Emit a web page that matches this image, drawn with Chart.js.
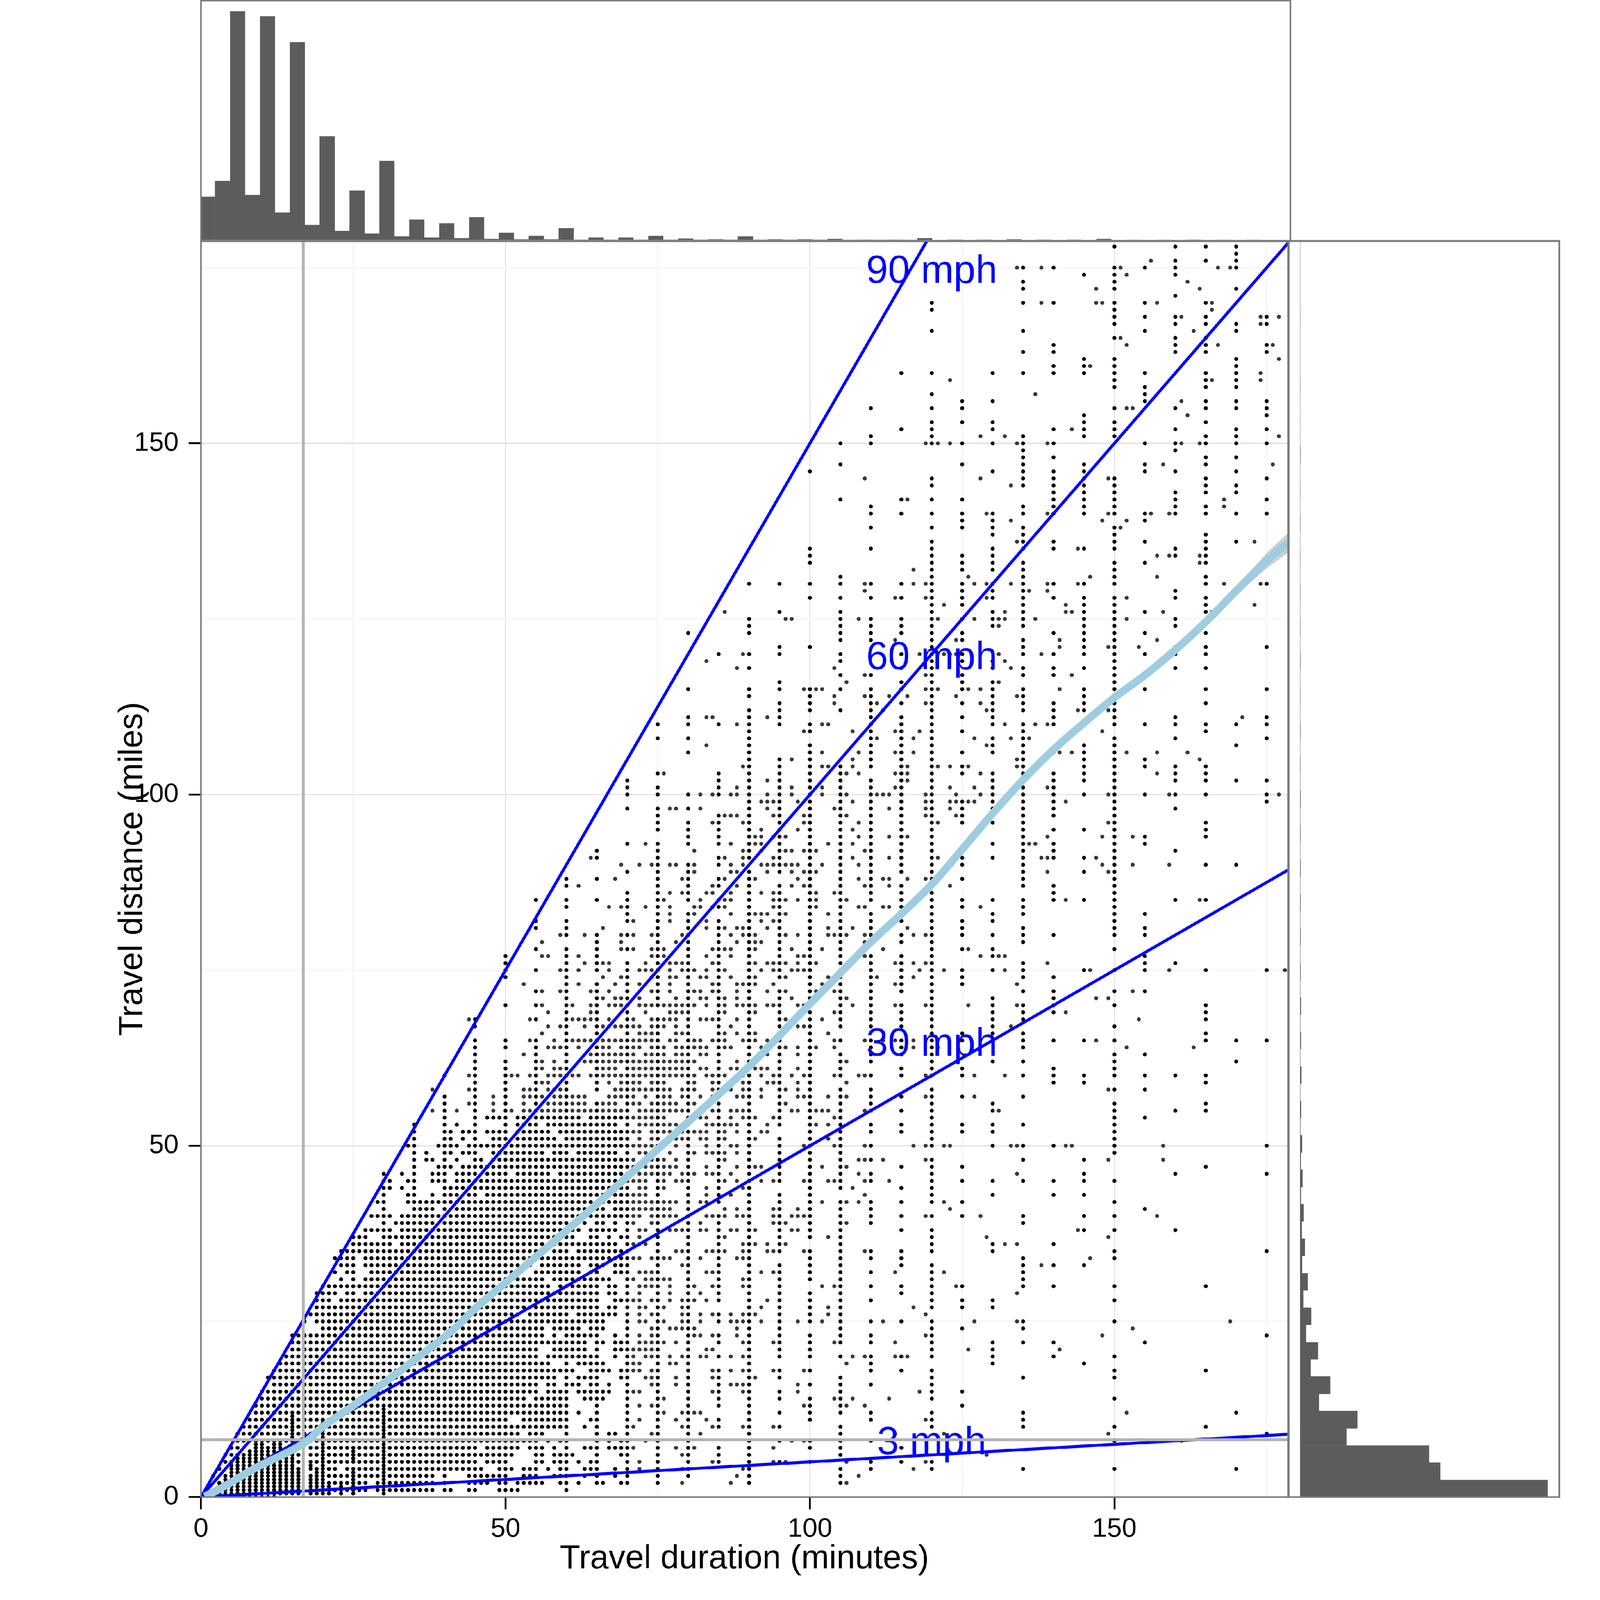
<!DOCTYPE html>
<html>
<head>
<meta charset="utf-8">
<title>Travel duration and distance</title>
<script src="https://cdn.jsdelivr.net/npm/chart.js@4/dist/chart.umd.js"></script>
<style>
  html, body { margin: 0; background: #fff; overflow: hidden; }
  #page { position: relative; width: 4800px; height: 4800px; overflow: hidden; background: #fff; transform-origin: 0 0; }
  canvas { position: absolute; display: block; }
</style>
</head>
<body>
<div id="page">
  <canvas id="scatter" width="3900" height="4800" style="left:0;top:0"></canvas>
  <canvas id="topHist" width="3300" height="730" style="left:590px;top:0"></canvas>
  <canvas id="rightHist" width="850" height="3800" style="left:3850px;top:710px"></canvas>
</div>
<script>
// The window can report fewer css pixels than 4800, fit the page to it
document.getElementById('page').style.transform = 'scale(' + Math.min(window.innerWidth, window.innerHeight) / 4800 + ')';

// Histogram heights (bottom-most / left-most bin first)
const topCounts = [252,346,1343,263,1314,160,1163,87,608,52,289,36,463,20,118,13,97,9,132,5,42,3,22,3,69,1,13,1,13,1,22,1,7,1,3,1,20,1,3,1,3,1,5,.5,1,.5,1,.5,9,.3,1,.3,1,.3,3,.3,1,.3,1,.3,5,.2,.7,.2,.7,.2,1,.2,.7,.2,.7,.1,.1];
const rightCounts = [1165,660,607,219,269,88,141,50,84,28,52,14,36,9,22,8,17,3,11,2.6,9,1,4.7,.5,6.2,.5,3,.5,3,.4,1.5,.3,1.5,.3,1.5,.3,1.5,.3,1.2,.3,1.5,.3,.8,.2,1,.2,.7,.2,1,.2,.7,.2,.7,.1,.4,.1,.6,.1,.4,.1,1,.1,.2,.1,.4,.1,.1,.1,.3,.1,.1,.1,.1];
const topFirstBin = 1.1, rightFirstBin = 1.2, binWidth = 2.453;

// Axis ticks: every 25 gets a grid line, every 50 a label
const gridTicks = [0, 25, 50, 75, 100, 125, 150, 175];
const labelledTicks = [0, 50, 100, 150];

// Speed reference lines and their labels
const line90 = [{x:0,y:0},{x:120,y:180}];
const line60 = [{x:0,y:0},{x:180,y:180}];
const line30 = [{x:0,y:0},{x:180,y:90}];
const line3  = [{x:0,y:0},{x:180,y:9}];
const speedLabels = ['90 mph', '60 mph', '30 mph', '3 mph'];
const labelMinutes = [120, 120, 120, 120];
const labelMiles = [174.35, 119.35, 64.35, 7.6];

// Median cross-hair
const medianMinutes = 16.8, medianMiles = 8.15;

// Smoother and its confidence band
const smoothMinutes = [0.6,2.9,8.7,16.8,20,25,30,36.7,41.4,45,50,55,60,65,70,75,80,85,90,95,100,105,110,115,120,125,130,135,140,145,150,155,160,165,170,175,178.6];
const smoothMiles = [0.1,1.05,4,7.6,10,13,16.2,20.6,23.8,26.8,30.5,34.2,37.9,41.7,45.6,49.5,53.4,57.3,61.3,65.7,70.2,74.6,79,83,87.2,92.2,97.3,102.1,106.4,110.2,113.8,117,120.6,124.6,129,133.3,135.9];
const bandMinutes = [150,160,165,170,175,178.6];
const bandUpper = [113.9,120.8,124.9,129.6,134.4,137.3];
const bandLower = [113.7,120.4,124.3,128.4,132.2,134.5];

// Dots, per mile row: "minutes" with a-b for a run of neighbouring dots
// 0-25 miles, up to 43 minutes
const lowLeftRows = [
  [0,'3-12'],[1,'4-16 18-27 29-38 40 41'],[2,'3-16 18-27 29-38 40'],[3,'2 4-16 18-38 40'],[4,'3 5-16 18-22 24-43'],
  [5,'4-16 18-43'],[6,'4-16 18-43'],[7,'5 6 9-13 15 16 18-43'],[8,'6-43'],[9,'6-43'],[10,'7-43'],[11,'8-43'],[12,'9-43'],
  [13,'9-43'],[14,'10-43'],[15,'10-43'],[16,'12-43'],[17,'11-43'],[18,'12-43'],[19,'13-43'],[20,'14-43'],[21,'15-43'],
  [22,'15-43'],[23,'15-43'],[24,'20-43'],[25,'17 19-43']
];
// stacked half-mile dots that make the solid bars at short durations
const halfMileRows = [
  [0.5,'3-16 18-21 23 25 30'],[1.5,'3-16 18-21 23 25 30'],[2.5,'4-16 18-20 25 30'],[3.5,'5-16 19 20 25 30'],[4.5,'5-15 18 20 30'],
  [5.5,'6-15 20 25 30'],[6.5,'8-15 20 25 30'],[7.5,'9 10 12 13 15 20 30'],[8.5,'15 20 30'],[9.5,'15 20 30'],[10.5,'15 20 30'],[11.5,'15 30'],[12.5,'30']
];
// 1-25 miles, from 44 minutes
const lowRows = [
  [25,'44-66 70 72 73 75 76 79 80 82 85 87-90 92 95 98 100 102 105 110 112 115 120 127 134 135 150 169'],
  [24,'44-56 58-62 64-66 70 74 75 77-81 88 90 95 105 120 125 135 153'],
  [23,'44-56 58 60-65 68 70 72 74 75 80-82 84 85 88 90 95 100 105 110 119 120 148 175'],
  [22,'44-63 65 66 68-70 72-76 78 80 85 89 90 94 95 100 104 105 110 114 120 130 135 140 155'],
  [21,'44-55 58-63 65 68-75 80 83 84 90 95 100 120 126 130 141'],
  [20,'44-55 57-65 68 70 71 73-75 77 79 80 82 83 85 87 89 90 95 100 105 107 109 110 114-116 120 130 140 150'],
  [19,'44-57 60 62-66 70-72 75 77 78 80 90 106 110 130 145'],
  [18,'44-61 64-67 69-72 74 75 80 84 85 87 89 90 94 95 99 100 110 115 120 150 165'],
  [17,'44-58 60 62-65 69 70 73-75 78 80 84 85 90 91 95 105 120 135 150'],
  [16,'44-55 57 58 60-62 64 65 67 70 74 75 78 80 85 87-90 98 100 105 110 120'],
  [15,'44-55 57-60 62-67 70-72 75 80 84 85 89 90 95 98 105 118 120 125'],
  [14,'44-53 55-60 63-66 70 75 76 80 85 90 95 100 104 105 107 113 120 150'],
  [13,'44-60 65 70 72 74 75 80 85 90 99 100 105 106 109 125'],
  [12,'44-60 62 65 70 75 76 79-82 90 95 100 105 110 120 135 152 170'],
  [11,'44-50 53-60 64 65 70 72 75 78 80 83 85 90 100 110 119 120 135'],
  [10,'44-60 63 65 70 71 75 79 80 84 85 89 90 94 95 105 120 135 150 165'],
  [9,'44-52 54-56 60 65 67 68 70 74 75 80 82 90 105 114 122 149 175'],
  [8,'44-55 57 59 60 65 67 69 70 73 75 80 90 95 97 99 100 105 110 150 161'],
  [7,'44 45 47-52 54-56 58 60 63-65 67-71 75 78 80 81 85 90 94 100 105 115'],
  [6,'44-51 55 56 58-61 65 69 70 75 79 80 85 90 105 129'],
  [5,'44 45 47-50 55 56 58-60 62 64 65 70 72 75 80 84 85 90 94-96 100 106 110 115 119 120'],
  [4,'44-46 49-51 53-55 57 59 60 63-65 68 70 72 75 79 80 89 90 105 110 117 120 135 150 170'],
  [3,'44-50 53-55 58-60 63 65 68 70 75 80 88 90 105 108'],
  [2,'44-47 49 50 52-56 59 60 62 65 66 69 70 75 79 87 90 105 106'],
  [1,'44 45 49-52 60']
];
// 26-68 miles, up to 49 minutes
const leftRows = [
  [68,'44 45'],[67,'45'],[65,'45'],[64,'45'],[63,'45'],[62,'45'],[61,'45'],[60,'40 44 45'],[59,'45'],[58,'38 44 45'],[57,'40 45 48'],
  [56,'40 44 45 48'],[55,'38 40 42 45 48'],[54,'40 45 47-49'],[53,'35 40 42 45'],[52,'35 40 41 43-45 47-49'],[51,'35 40 41 43 45 48 49'],
  [50,'34 35 39-42 44-49'],[49,'35 37 40 41 43-45 48 49'],[48,'35 37 38 40 42 45 46 48 49'],[47,'35 39-41 43-49'],[46,'30 33 35 38-40 42-45 47-49'],
  [45,'30 31 34 35 38-40 42-49'],[44,'30 31 33 35 40-49'],[43,'30 34 35 38 40-42 44 45 47-49'],[42,'29 30 34-49'],[41,'30 35-38 40 42-49'],
  [40,'28-31 33-49'],[39,'30 32-38 40-49'],[38,'27-31 33-49'],[37,'25-27 30-49'],[36,'25-31 33-49'],[35,'23-49'],[34,'22-25 27-49'],
  [33,'23-25 27-49'],[32,'22 24 25 28-49'],[31,'23 25 27-49'],[30,'20-49'],[29,'19-22 24 25 27-49'],[28,'19-21 23-49'],[27,'19-49'],[26,'18-49']
];
// 26-70 miles, 44-98 minutes
const midRows = [
  [70,'50 55 56 60 61 64 65 67-70 72-81 83 85 86 88-91 93-95'],[69,'57 60 64 65 70 73 77-80 85 86 90 91 95'],
  [68,'54 55 60-65 67 70 71 74-78 80 82-85 88 90 95 96'],[67,'57 59 60 63 65-72 74-76 78 80 85 87 90 95'],
  [66,'56 60 65 70 72-75 78-80 85 86 88 90 91 95'],[65,'50 54 55 58 60-75 77 78 80-82 84-86 89-91 93 95'],
  [64,'50 55 57-60 62 65-67 69-72 74-76 78-83 85-87 90 92 93 95 96 98'],[63,'53 55 60 64-71 73-76 78-80 82 83 85 90 93 95'],
  [62,'50 55 56 58 60 63-81 85 88 90 95'],[61,'50 55 56 58-60 65-68 70-80 82 83 85 87 88 90-93 95 98'],
  [60,'50-52 54 55 57-62 64-81 83-86 89 90 92 94 95 97'],[59,'50 55-57 60 65 67 69-72 74-76 80 81 84 85 89 90 93-95 98'],
  [58,'50 53-55 57-60 65 68-77 79-81 84 85 87 89 90 92 95 96 98'],[57,'48 50 53-56 58-63 67-71 73 75-77 79 80 82 84 85 88-90 92 95'],
  [56,'48 50 53 55 57-63 65-68 70-72 74-78 80 81 85 90 95 96'],[55,'48 50 51 53-70 72-80 84 85 87-90 95 97 98'],
  [54,'47-50 52-62 64-76 80 82 83 85 87 89-91 94 95'],[53,'50 52-55 57-68 70 72-80 83-88 90 93 95'],
  [52,'47-50 52-57 59-72 74-83 85 86 88 90 92 93'],[51,'48-50 52-58 60-70 72 74 75 78-80 82 83 85 86 90 91 95'],
  [50,'44-75 78 80 83 85 87 88 90 95'],[49,'44 45 48 50-56 58-60 62-68 70 72 73 77 80 81 83-86 88 90 95'],
  [48,'45 46 48-71 73-76 78 80 85 86 90 95'],[47,'44-46 48-78 80 83 85 88 90-92 95'],
  [46,'44 45 47-50 52-57 59-70 72-77 79-81 83-85 87 90 95'],[45,'44-73 75 76 78-80 85 86 88 90 92 94 95'],
  [44,'45-70 72 73 75 76 80 83 85 89 90'],[43,'44 45 47-73 75 80 83 85 87 90 95'],[42,'44-78 80 82 83 85 90 95'],
  [41,'44-66 68-77 80 86 88 90 94 95 98'],[40,'44-72 74-78 80 83-86 88-90 94 95 97 98'],
  [39,'44-60 63 65 66 68 70 71 74 75 80 82 85 90 94-96'],[38,'44-62 64-68 70 72 73 75 77-80 82 83 85 87 88 90 91 95 97 98'],
  [37,'44-61 64 65 67 69 70 72 75 80 85 86 90 95'],[36,'44-68 70-73 75 80 85 89-91 93 95 96'],
  [35,'44-56 58-60 62-70 75 78-80 83-86 89 90 93-95'],[34,'44-72 74-77 80 82 85 88-90'],[33,'44-54 56-62 64-66 68-70 75 79 80 85 90 95'],
  [32,'44-52 55-62 64 65 68-70 72-75 80 83-85 90 92 94 95'],[31,'44-56 58-67 70 71 73-77 80 85 89 90 95'],
  [30,'44-57 59-65 67 68 70 72-75 77 80 81 84 85 89 90 95'],[29,'44-65 67 68 70 72 75 77 80 82 85 90 95'],
  [28,'44-65 68-72 74 75 77 79-81 83 85 90 93 95'],[27,'44-65 67 68 70 72 73 75 76 79 80 90 92 95'],
  [26,'44-52 54-60 62-68 70 72 74 75 79 80 82 84 85 87 89-91 95']
];
// 26-85 miles, 98 minutes and longer
const rightRows = [
  [85,'100 101 105 106 110 120 125 130 140 142 145 150 160 164 165'],[84,'100 101 105 108 109 112 113 115 120 125 128 135 150'],
  [83,'100 103 105 110 115 120 130 135 150 155'],[82,'100 105 110 115 120 125 130 150'],[81,'100 103 105 107 110 116 120 125 135 150 155'],
  [80,'98 100 103-106 109-111 115 117 119 120 125 130 135 140 150 155'],[79,'100 105 109 110 115 120 135'],[78,'100 102 105 112 120 125 126 130 150'],
  [77,'98-100 105 109 110 115 120 128 130-132 155'],[76,'98 100 101 105 110 114 115 117 119 120 135 139 155 160'],
  [75,'98-100 105 110 115 118 120 122 125 130 132 135 145 146 150 155 159 165 175 178'],[74,'100 103 105 110 111 115 117 120 125 135 140'],
  [73,'100 102 105 110 114 115 120 125 134'],[72,'100 101 104 105 110 115 120 135 140 150 153 155'],[71,'100 105 106 110 120 130 140 147 149'],
  [70,'98-100 105 107 110 114 115 119 120 126 130 134 135 140 150 165'],[69,'100 104 105 110 115 120 130 135 140 142 165'],
  [68,'100 102 105 110 115 120 130 135 154 165'],[67,'98-100 105 110 115 120 130 133 150'],[66,'100 103 120 125 130 135 165'],
  [65,'100 104 105 109 110 112 114 115 117 120 125 135 140 145 147 150 165 170 175'],[64,'98 100 101 104 110 115 117 120 121 135 152 163'],
  [63,'98 100 105 110 115 120 150 155'],[62,'100 105 106 110 120 130 135 150 170'],[61,'98 100 105 115 120 125 140 150'],
  [60,'99 100 104 105 108-110 115 119 120 125 127 132 135 140 145 150 155 160 165'],[59,'98 100 106 140 145 165'],
  [58,'98 100 105 110 120 149 150 155'],[57,'98-100 103 105 106 110 115 119 120 125 127 135'],[56,'100 105 110 120 130 150 165'],
  [55,'98 100-103 105 109 110 115 120 130 131 150 160 165'],[54,'100 104 105 120 150 155'],[53,'100 101 103 105 110 115 120 125 130 135 150'],
  [52,'100 105 110 115 120 125 130 150'],[51,'100 103 105 120 150'],[50,'99 100 104 105 109 110 117 119 120 122 123 130 133-135 140 142 143 150 158 175'],
  [49,'100 105 150'],[48,'100 105 108-110 112 119 120 135 145 149 158'],[47,'100 102 105 106 115 120 125 165'],[46,'100 105 108 110 120 134 145 160 175'],
  [45,'99 100 103-105 109 110 113 120 125 130 135 140 145 150'],[44,'100 105 107 115 120'],[43,'100 109 120 130 140 145'],
  [42,'100 102 105 106 108 110 115 120 122 125 150'],[41,'98 100 105 110 123 155'],[40,'98-100 105 110 115 119 120 125 128 135 145 150 157'],
  [39,'100 105 106 110 135'],[38,'98 100 105 115 120 144 145 150 160'],[37,'100 103 105 120 129 149'],[36,'105 120 130 132 134 140'],
  [35,'99 100 105 109 110 115 120 130 150 175'],[34,'100 105 110 115 135 146 150'],[33,'100 105 115 120 135 138 140 145'],
  [32,'100 105 110 114 120 122 135'],[31,'100 105 120 135'],[30,'102 104 105 110 115 120 124 125 135 140 150 165'],[29,'100 105 115 120 134'],
  [28,'100 105 110 120 125 130 150'],[27,'100 103 105 117 120 125 130'],[26,'100 103 105 119']
];
// stray dots between the five-minute columns, upper part of the panel
const upperRows = [
  [176,'156'],[175,'134 138 151 167 169'],[174,'152'],[173,'162'],[172,'147 164'],[170,'138 147 148 157 166'],[169,'166'],[168,'161 174 177'],[167,'174'],
  [166,'163'],[165,'151'],[164,'152 167 176'],[162,'177'],[161,'146'],[160,'174'],[159,'123 166 174'],[157,'137'],[156,'161'],[155,'152 153'],[154,'162'],
  [152,'143'],[151,'128 132 177'],[150,'119 121 123 134 139 161 164'],[147,'158 176'],[145,'109 128 149'],[144,'133'],[142,'116 168'],[141,'168'],
  [140,'129 139 149 156 159'],[139,'133 148 152'],[138,'151'],[136,'134 173'],[135,'144'],[134,'157 159 164'],[133,'164'],[132,'117'],[131,'126 146 157'],
  [130,'109 117 119 127 129 133 139 144 168 174'],[129,'109 136 139'],[128,'114 119 129 152'],[127,'122 142 173'],[126,'86 132 142 143 158 166'],
  [125,'96 97 108 121 127 131 132 137 152'],[124,'131'],[122,'114 124 141 157'],[121,'141 149 154'],[120,'89 118 122-124 131 138'],[119,'83 132'],[118,'88 104 133'],
  [117,'109 119 143'],[116,'106 131'],[115,'99 101 102 119 121 126 128 141'],[114,'104 109 113 116 124 134'],[113,'104 111 119 128'],[112,'112 129 144 149'],
  [111,'83 84 93 146 171'],[110,'88 102 103 132 137 139'],[109,'99 107 114 118 148'],[108,'111 117 127 133 136'],[107,'83 129'],
  [106,'102 108 114 117 141 143 152 157 162'],[105,'97 107 134 164'],[104,'89 102 103 107 116 121 123 126 134'],[103,'76 106 108 114 116 128 157'],
  [102,'93 116'],[101,'88 97 102 114 123 127 139'],[100,'82 84 87 88 93 97 102 106 111-113 119 124 128 149 159 177'],
  [99,'92-94 98 107 119 123 124 126 127 142'],[98,'77 78 82 93 104 113 119 123'],[97,'86-88 94 99 106 119 124'],[96,'84 89 99 108 121 149'],
  [95,'92 98 107'],[94,'91 92 94 96 108 113 116 139 148 153'],[93,'73 87 91 92 103 107 136 137'],[92,'81 89 92 96 97 99 101 109'],[91,'64 86 89 94 107 113 121 138 139 147'],
  [90,'69 72 74 77 78 81 87 89 92-94 96-98 102 108 148 153 159'],[89,'81 87 88 93 97 99 101 139 149'],[88,'68 79 86 91 98 108 112 113 116 119'],
  [87,'62 84 88 97 99 109 113 123'],[86,'77 79 83 84 87 92 94 101 104'],[85,'76 82 86 87 94 96 98'],[84,'67 69 73 77 81 82 84 86 94'],
  [83,'77 81 87 91-93 96'],[82,'71 77 83 92 94'],[81,'66 83 86 88 89 93'],[80,'59 63 69 71 74 79 87 89 91 96 98'],[79,'56 69 78 88 91 92'],
  [78,'69 71 74 76 84 86 87 91 97'],[77,'56 57 62 74 76 83 87 98'],[76,'63 66 67 73 77-79 84 91 93 94 96 98'],
  [75,'59 62 67 72-74 77 79 81 83 86 92 94 97 98'],[74,'66 69 74 77 78 82 83 87 91 96'],[73,'53 62 68 72 77 84 88 89 91 94'],
  [72,'56 59 64 67 74 77 81 82 84 88 93 96'],[71,'66 68 69 72 78 82 83 86 88 97']
];
// whole five-minute columns, 71 miles and up
const columnDots = [
  [50,'74-77'],[55,'72 75 78 81 82 85'],[60,'71-78 80-82 84 85 87 88'],[65,'71-73 75-80 85 88 91 92'],
  [70,'71-76 78 80 82-86 89 93 98 100-102'],[75,'71-93 95-98 100 101 103 108 110'],
  [80,'71-83 85-90 93-96 98 100 106 108 110 111 115 123'],[85,'71-82 84 85 87 88 90 91 93-97 100-103 110 120'],
  [90,'71-89 91-112 114 115 118 120 123-125 130'],[95,'71 72 74-87 89-105 110-113 115 116 120 121 126 130'],
  [100,'85-107 109 110 112-115 121 128 130 133-135 146'],[105,'85-104 112 115 117 119 120 122-126 128 130 131 142 147 150'],
  [110,'85-102 104-115 117 122-125 128 130 135 138 140 141 150 151 155'],[115,'85-87 89-111 113 115 116 118 120 123-125 128 130 140 142 152 160'],
  [120,'85-136 138 140 142 144 145 150-153 155 157 160 166 169 170'],
  [125,'88 90 91 96-99 103 104 106 109 111 113 115-117 119 120 122 123 125 127-130 132-134 138-140 142 147 150 153 155 156'],
  [130,'85 91 93 96-103 106-108 110-116 118 119 124-126 128-130 132-135 137-140 146 150 152 153 156 160'],
  [135,'85 87-99 100 101 103-110 112-115 117 118 120-122 124-133 135-138 140 141 144-151 160 163 166 170 172 173 175'],
  [140,'85-87 91-93 95 97-103 106 110-113 117 118 120 123 128 130 135 136 140-146 148 150 152 160 161 163 164 170 175'],
  [145,'89 91 95 100 102-107 112-115 118 120-128 130 135 140-147 151-154 160-162 174'],
  [150,'85-108 110-128 130-133 135-138 140-145 151-153 155 158-162 165 167-170 172-175 178'],
  [155,'93 94 100 104 105 110 115 117 120 123 126 133 136 139 140 146 147 150 156-158 160 166 168 170 175'],
  [160,'92 98 100 102-104 108 110 111 118 120 121 124 125 128 129 134 135 140-143 146 149 150 152 155 163-165 167 168 171 174-176 178'],
  [165,'90 94-96 100 102-104 109 110 113 115 118 120 121 123 126-128 130 131 133-137 140 141 143-145 147 148 150 151 153 155 156 158-160 163-165 167 168 170 176 178'],
  [170,'90 102 107 110 136 140 143 144 146 148 150-152 155 156 158-162 166 167 172 175-178'],
  [175,'99 100 102 108 110 111 115 121 130 140 142 145 150 152 154-156 163 164 167 168']
];

// "44-47 52" -> [44,45,46,47,52]
function readRuns(text) {
  const out = [];
  text.split(' ').forEach(part => {
    const [a, b] = part.split('-').map(Number);
    for (let m = a; m <= (b === undefined ? a : b); m++) out.push(m);
  });
  return out;
}

// Collect every dot once
const seen = new Set();
const darkDots = [], lightDots = [];
function addDot(minute, mile) {
  const key = minute + '/' + mile;
  if (seen.has(key)) return;
  seen.add(key);
  // overplotted dots come out black: busy columns and the dense wedge
  const busy = minute % 5 === 0 || (minute < 70 && mile < 55);
  (busy ? darkDots : lightDots).push({ x: minute, y: mile });
}
[lowLeftRows, halfMileRows, lowRows, leftRows, midRows, rightRows, upperRows].forEach(rows => {
  rows.forEach(([mile, runs]) => readRuns(runs).forEach(m => addDot(m, mile)));
});
columnDots.forEach(([minute, runs]) => readRuns(runs).forEach(mile => addDot(minute, mile)));

Chart.defaults.font.family = '"Liberation Sans"';
Chart.defaults.color = '#000';
Chart.defaults.animation = false;

const BLUE = '#0000ff';
const GREY_LINE = '#b3b3b3';
const BORDER = '#7a7a7a';
const BAR = '#5c5c5c';

// grey frame round each panel, drawn over the marks
const panelBorder = {
  id: 'panelBorder',
  afterDraw(chart) {
    const { ctx, chartArea: a } = chart;
    ctx.save();
    ctx.strokeStyle = BORDER;
    ctx.lineWidth = 5;
    ctx.strokeRect(a.left, a.top, a.right - a.left, a.bottom - a.top);
    ctx.restore();
  }
};

// mph labels sit above the blue lines but under the grey cross-hair
const speedText = {
  id: 'speedText',
  afterDatasetDraw(chart, args) {
    if (chart.data.datasets[args.index].label !== '90 mph line') return;
    const { ctx, scales } = chart;
    ctx.save();
    ctx.fillStyle = BLUE;
    ctx.font = '118px "Liberation Sans"';
    ctx.textAlign = 'center';
    ctx.textBaseline = 'middle';
    speedLabels.forEach((text, i) => {
      ctx.fillText(text, scales.x.getPixelForValue(labelMinutes[i]), scales.y.getPixelForValue(labelMiles[i]));
    });
    ctx.restore();
  }
};

function xy(xs, ys) {
  return xs.map((x, i) => ({ x, y: ys[i] }));
}

function lineSet(label, data, color, width, tension) {
  return { label, data, borderColor: color, borderWidth: width, pointRadius: 0, showLine: true, fill: false, tension: tension || 0 };
}

function axis(max, titleText, titlePadding, tickPadding, fitFn) {
  const isMajor = v => labelledTicks.includes(v);
  return {
    type: 'linear',
    min: 0,
    max,
    afterBuildTicks: s => { s.ticks = gridTicks.map(value => ({ value })); },
    afterFit: fitFn,
    grid: {
      color: c => isMajor(c.tick.value) ? '#e1e1e1' : '#f9f9f9',
      lineWidth: c => isMajor(c.tick.value) ? 3.5 : 8,
      tickColor: '#000',
      tickWidth: c => isMajor(c.tick.value) ? 5.5 : 0,
      tickLength: 37
    },
    border: { display: false },
    ticks: {
      autoSkip: false,
      maxRotation: 0,
      padding: tickPadding,
      font: { size: 80 },
      callback: v => isMajor(v) ? String(v) : ''
    },
    title: { display: true, text: titleText, font: { size: 100 }, padding: titlePadding }
  };
}

// First dataset ends up on top
new Chart(document.getElementById('scatter'), {
  type: 'scatter',
  plugins: [speedText, panelBorder],
  data: {
    datasets: [
      lineSet('smooth', xy(smoothMinutes, smoothMiles), '#9ecde0', 23, 0.4),
      { label: 'band upper', data: xy(bandMinutes, bandUpper), borderWidth: 0, pointRadius: 0, showLine: true, backgroundColor: '#cfcfcf', fill: '+1' },
      { label: 'band lower', data: xy(bandMinutes, bandLower), borderWidth: 0, pointRadius: 0, showLine: true, fill: false },
      lineSet('median minutes', [{ x: medianMinutes, y: 0 }, { x: medianMinutes, y: 180 }], GREY_LINE, 8.5),
      lineSet('median miles', [{ x: 0, y: medianMiles }, { x: 180, y: medianMiles }], GREY_LINE, 8.5),
      lineSet('90 mph line', line90, BLUE, 9),
      lineSet('60 mph line', line60, BLUE, 9),
      lineSet('30 mph line', line30, BLUE, 9),
      lineSet('3 mph line', line3, BLUE, 9),
      { label: 'dots dark', data: darkDots, pointRadius: 6, pointBorderWidth: 0, backgroundColor: '#000' },
      { label: 'dots light', data: lightDots, pointRadius: 6, pointBorderWidth: 0, backgroundColor: '#383838' }
    ]
  },
  options: {
    responsive: false,
    devicePixelRatio: 1,
    parsing: false,
    normalized: false,
    layout: { padding: { top: 723, right: 36, left: 0, bottom: 0 } },
    plugins: { legend: { display: false }, tooltip: { enabled: false } },
    scales: {
      x: axis(178.5, 'Travel duration (minutes)', { top: 0, bottom: 63 }, 12, s => { s.height = 309; }),
      y: axis(178.8, 'Travel distance (miles)', { top: 338, bottom: 0 }, 30, s => { s.width = 603; })
    }
  }
});

new Chart(document.getElementById('topHist'), {
  type: 'bar',
  plugins: [panelBorder],
  data: {
    datasets: [{
      data: topCounts.map((y, i) => ({ x: topFirstBin + i * binWidth, y })),
      backgroundColor: BAR,
      borderWidth: 0,
      barPercentage: 1,
      categoryPercentage: 1
    }]
  },
  options: {
    responsive: false,
    devicePixelRatio: 1,
    layout: { padding: { left: 13, right: 19, top: 2, bottom: 7 } },
    plugins: { legend: { display: false }, tooltip: { enabled: false } },
    scales: {
      x: { type: 'linear', display: false, offset: false, min: 0, max: 178.9 },
      y: { type: 'linear', display: false, min: -7, max: 1406 }
    }
  }
});

new Chart(document.getElementById('rightHist'), {
  type: 'bar',
  plugins: [panelBorder],
  data: {
    datasets: [{
      data: rightCounts.map((x, i) => ({ x, y: rightFirstBin + i * binWidth })),
      backgroundColor: BAR,
      borderWidth: 0,
      barPercentage: 1,
      categoryPercentage: 1
    }]
  },
  options: {
    indexAxis: 'y',
    responsive: false,
    devicePixelRatio: 1,
    layout: { padding: { left: 16, right: 22, top: 13, bottom: 19 } },
    plugins: { legend: { display: false }, tooltip: { enabled: false } },
    scales: {
      x: { type: 'linear', display: false, min: -54, max: 1220 },
      y: { type: 'linear', display: false, offset: false, min: 0, max: 178.8 }
    }
  }
});
</script>
</body>
</html>
